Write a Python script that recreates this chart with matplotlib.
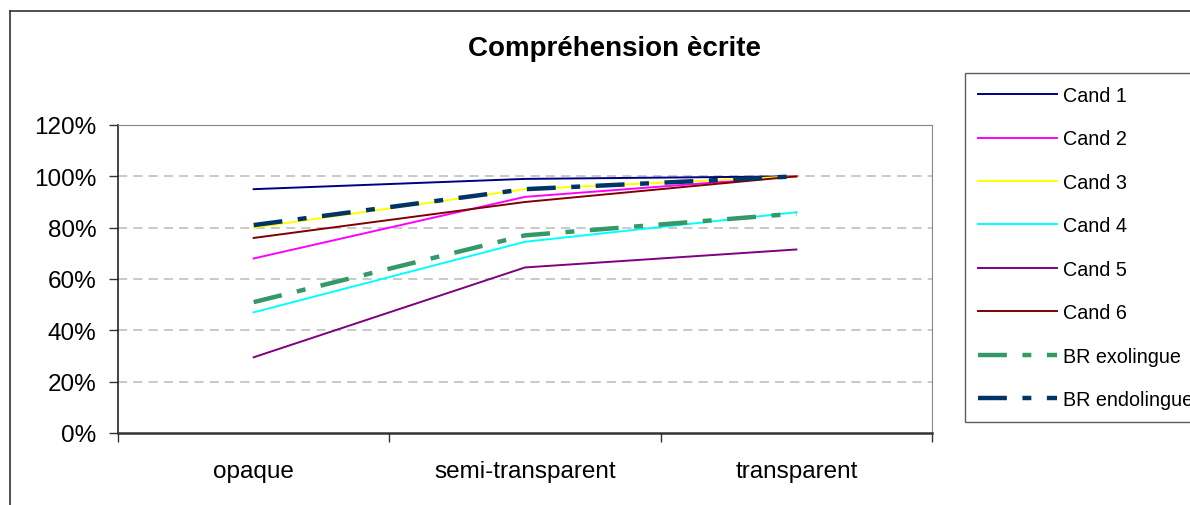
import matplotlib
matplotlib.use("Agg")
import matplotlib.pyplot as plt
from matplotlib.lines import Line2D
from matplotlib.ticker import FuncFormatter, FixedLocator

plt.rcParams['font.family'] = ['Liberation Sans', 'DejaVu Sans']

categories = ["opaque", "semi-transparent", "transparent"]
series_names = ["Cand 1", "Cand 2", "Cand 3", "Cand 4", "Cand 5", "Cand 6",
                "BR exolingue", "BR endolingue"]
cand1 = [0.95, 0.99, 1.00]
cand2 = [0.68, 0.92, 1.00]
cand3 = [0.80, 0.95, 1.00]
cand4 = [0.47, 0.745, 0.86]
cand5 = [0.295, 0.645, 0.715]
cand6 = [0.76, 0.90, 1.00]
br_exo = [0.51, 0.77, 0.855]
br_endo = [0.81, 0.95, 1.00]
series_values = [cand1, cand2, cand3, cand4, cand5, cand6, br_exo, br_endo]

colors = ["#000080", "#FF00FF", "#FFFF00", "#00FFFF", "#800080", "#800000",
          "#339966", "#003366"]

W, H = 1190, 506
fig = plt.figure(figsize=(W / 100, H / 100), dpi=100)
ax = fig.add_axes([118 / W, 1 - 434 / H, (932 - 118) / W, (434 - 126) / H])

x = [i + 0.5 for i in range(len(categories))]
handles = []
for name, vals, col in zip(series_names, series_values, colors):
    if name.startswith("BR"):
        ln, = ax.plot(x, vals, color=col, lw=3.2, label=name,
                      dashes=(6.5, 3.5, 2, 3.5), solid_capstyle='butt',
                      dash_capstyle='butt')
    else:
        ln, = ax.plot(x, vals, color=col, lw=1.4, label=name)
    handles.append(ln)

ax.set_xlim(0, len(categories))
ax.set_ylim(0, 1.2)
ax.yaxis.set_major_locator(FixedLocator([0, 0.2, 0.4, 0.6, 0.8, 1.0, 1.2]))
ax.yaxis.set_major_formatter(FuncFormatter(lambda v, p: f"{v * 100:.0f}%"))
ax.set_xticks([0, 1, 2, 3])
ax.set_xticklabels([])
ax.set_xticks(x, minor=True)
ax.set_xticklabels(categories, minor=True)
ax.tick_params(axis='x', which='minor', length=0, pad=19.5, labelsize=17.5)
ax.tick_params(axis='x', which='major', direction='out', length=6.5, width=1, color='#333333')
ax.tick_params(axis='y', direction='out', length=6.5, width=1, color='#333333',
               labelsize=17.5, pad=9)

for v in [0.2, 0.4, 0.6, 0.8, 1.0]:
    ax.axhline(v, color='#BBBBBB', lw=1.1, ls=(0, (6, 4)), zorder=0)

ax.spines['top'].set_color('#888888')
ax.spines['right'].set_color('#888888')
ax.spines['left'].set_color('#222222')
ax.spines['bottom'].set_color('#333333')
ax.spines['bottom'].set_linewidth(1.8)
ax.spines['left'].set_linewidth(1.2)

fig.text(614 / W, 1 - 49 / H, "Compréhension ècrite", ha='center', va='center',
         fontsize=20, fontweight='bold')

# outer chart frame
fig.add_artist(Line2D([10 / W, 10 / W], [0, 1 - 12 / H], color='#333333', lw=1.2,
                      transform=fig.transFigure))
fig.add_artist(Line2D([10 / W, 1], [1 - 12 / H, 1 - 12 / H], color='#333333', lw=1.2,
                      transform=fig.transFigure))

# legend runs past the right edge, as in the original
leg = fig.legend(handles=handles, loc='upper left',
                 bbox_to_anchor=(965 / W, 1 - 74 / H), bbox_transform=fig.transFigure,
                 frameon=True, fancybox=False, edgecolor='#333333', fontsize=14.2,
                 handlelength=4.0, handletextpad=0.3, labelspacing=1.24,
                 borderpad=0.66, borderaxespad=0)
leg.get_frame().set_linewidth(1.0)

fig.savefig("out.png", dpi=100)
